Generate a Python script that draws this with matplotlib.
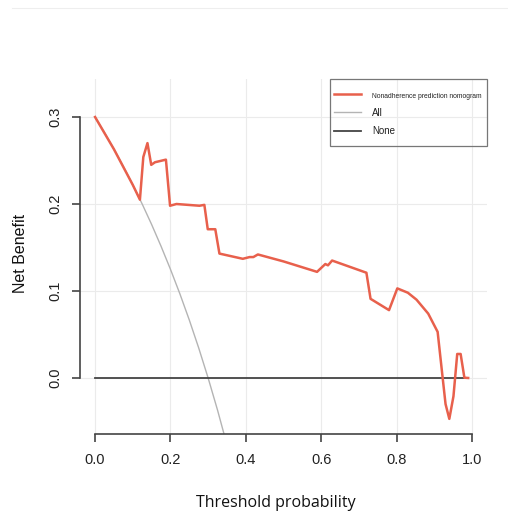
import matplotlib
matplotlib.use("Agg")
import matplotlib.pyplot as plt
from matplotlib.lines import Line2D
from matplotlib.patches import Rectangle
from matplotlib import font_manager

# Data
model_x = [0.0, 0.05, 0.10, 0.119, 0.128, 0.139, 0.149, 0.159, 0.188, 0.199, 0.216, 0.277,
           0.290, 0.299, 0.319, 0.330, 0.392, 0.410, 0.420, 0.432, 0.50, 0.589, 0.611,
           0.618, 0.629, 0.720, 0.731, 0.780, 0.802, 0.830, 0.853, 0.884, 0.909, 0.922,
           0.930, 0.940, 0.951, 0.961, 0.970, 0.980, 0.990]
model_y = [0.300, 0.263, 0.222, 0.205, 0.254, 0.270, 0.245, 0.248, 0.251, 0.198, 0.200, 0.198,
           0.199, 0.171, 0.171, 0.143, 0.137, 0.139, 0.139, 0.142, 0.134, 0.122, 0.131,
           0.1295, 0.135, 0.121, 0.091, 0.078, 0.103, 0.098, 0.090, 0.074, 0.053, 0.0015,
           -0.030, -0.047, -0.021, 0.0276, 0.0276, 0.0003, 0.0]
all_x = [0.0, 0.025, 0.05, 0.075, 0.10, 0.125, 0.15, 0.175, 0.20, 0.225, 0.25, 0.275,
         0.30, 0.325, 0.35]
all_y = [0.300, 0.2821, 0.2632, 0.2432, 0.2222, 0.200, 0.1765, 0.1515, 0.125, 0.0968,
         0.0667, 0.0345, 0.0, -0.0370, -0.0769]
none_x = [0.0, 0.99]
none_y = [0.0, 0.0]
xticks = [0.0, 0.2, 0.4, 0.6, 0.8, 1.0]
yticks = [0.0, 0.1, 0.2, 0.3]
labels = ["Nonadherence prediction nomogram", "All", "None"]

names = {f.name for f in font_manager.fontManager.ttflist}
narrow = "Liberation Sans Narrow" in names
sans = "Liberation Sans" if "Liberation Sans" in names else "DejaVu Sans"

W, H = 508, 513
fig = plt.figure(figsize=(W / 100, H / 100), dpi=100)
ax = fig.add_axes([80 / W, 1 - 434 / H, (487 - 80) / W, (434 - 79) / H])
ax.set_xlim(-0.04, 1.04)
ax.set_ylim(-0.0644, 0.3437)

for v in xticks:
    ax.axvline(v, color="#ebebeb", lw=0.8, zorder=0)
for v in yticks:
    ax.axhline(v, color="#ebebeb", lw=0.8, zorder=0)

l_all, = ax.plot(all_x, all_y, color="#b4b4b4", lw=1.0, zorder=2)
l_none, = ax.plot(none_x, none_y, color="#444444", lw=1.3, zorder=2)
l_mod, = ax.plot(model_x, model_y, color="#e8604c", lw=1.8, zorder=3)

for s in ["top", "right"]:
    ax.spines[s].set_visible(False)
ax.spines["left"].set_bounds(0.0, 0.3)
ax.spines["bottom"].set_bounds(0.0, 1.0)
for s in ["left", "bottom"]:
    ax.spines[s].set_color("#444444")
    ax.spines[s].set_linewidth(1.2)

ax.set_xticks(xticks)
ax.set_yticks(yticks)
ax.set_xticklabels([f"{v:.1f}" for v in xticks], fontfamily=sans, fontsize=10.5, color="#222222")
ax.set_yticklabels([f"{v:.1f}" for v in yticks], fontfamily=sans, fontsize=10.5,
                   color="#222222", rotation=90, va="center")
ax.tick_params(axis="x", length=6, width=1.2, color="#444444", pad=8)
ax.tick_params(axis="y", length=6, width=1.2, color="#444444", pad=7)

fig.text(276 / W, 1 - 503 / H, "Threshold probability", fontfamily="Open Sans", fontsize=11.5,
         ha="center", va="center", color="#111111")
fig.text(21 / W, 1 - 253 / H, "Net Benefit", fontfamily=sans, fontsize=11.5,
         ha="center", va="center", rotation=90, color="#111111")

# legend (entries) with a fixed-size frame
leg = ax.legend([l_mod, l_all, l_none], labels, loc="upper left",
                bbox_to_anchor=(334 / W, 1 - 91 / H), bbox_transform=fig.transFigure,
                frameon=False, fontsize=7, handlelength=2.8, borderpad=0,
                labelspacing=0.83, handletextpad=1.1, borderaxespad=0)
for i, t in enumerate(leg.get_texts()):
    t.set_fontfamily(sans)
    t.set_color("#222222")
t0 = leg.get_texts()[0]
if narrow:
    t0.set_fontfamily("Liberation Sans Narrow")
    t0.set_fontsize(5.9)
else:
    t0.set_fontsize(4.9)

fig.add_artist(Rectangle((330 / W, 1 - 146 / H), (487 - 330) / W, (146 - 79) / H,
                         transform=fig.transFigure, fill=False, edgecolor="#777777", lw=0.9))
fig.add_artist(Line2D([12 / W, 1.0], [1 - 8 / H, 1 - 8 / H], color="#eeeeee", lw=0.8))

fig.savefig("out.png", dpi=100, facecolor="white")
